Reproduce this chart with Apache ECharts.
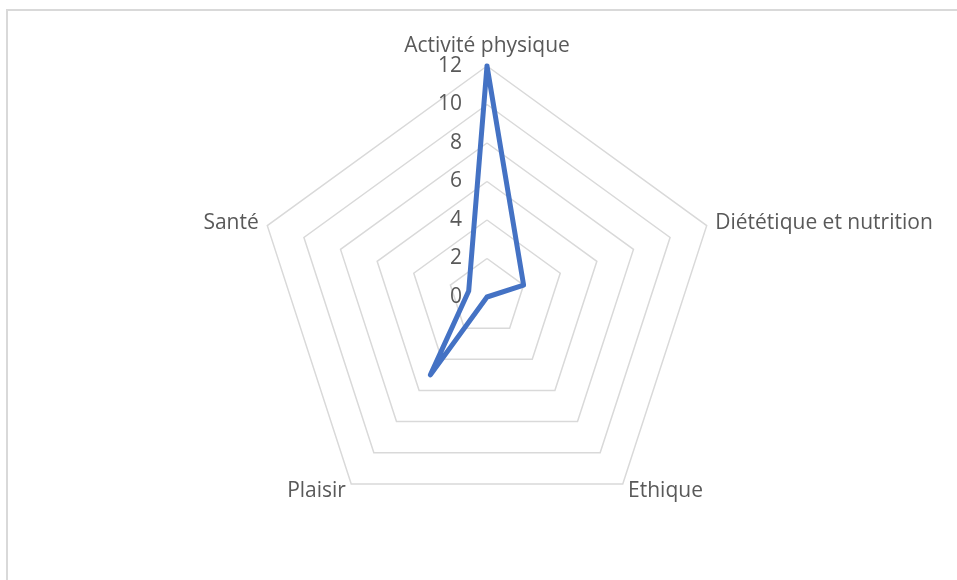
<!DOCTYPE html>
<html>
<head>
<meta charset="utf-8">
<script src="https://cdn.jsdelivr.net/npm/echarts@6/dist/echarts.min.js"></script>
<style>
  html, body { margin: 0; padding: 0; background: #fff; overflow: hidden; }
  #frame {
    position: absolute; left: 6px; top: 9px; width: 1000px; height: 700px;
    border-left: 2px solid #d9d9d9; border-top: 2px solid #d9d9d9;
  }
  #chart { position: absolute; left: 0; top: 0; width: 957px; height: 580px; }
</style>
</head>
<body>
<div id="frame"></div>
<div id="chart"></div>
<script>
  // axes of the radar, clockwise from the top
  const indicators = ['Activité physique', 'Diététique et nutrition', 'Ethique', 'Plaisir', 'Santé'];
  const values = [12, 2, 0, 5, 1];
  const axisMax = 12;
  const axisStep = 2;

  const center = [487, 297];
  const radius = 231;
  const textColor = '#595959';
  const fontFamily = '"Open Sans", sans-serif';
  const fontSize = 21;

  // echarts walks the radar counter-clockwise, so keep the first axis and flip the rest
  const order = [0].concat(indicators.map((_, i) => i).slice(1).reverse());

  const chart = echarts.init(document.getElementById('chart'));
  chart.setOption({
    animation: false,
    textStyle: { fontFamily: fontFamily },
    radar: {
      center: center,
      radius: radius,
      startAngle: 90,
      splitNumber: axisMax / axisStep,
      shape: 'polygon',
      indicator: order.map(i => ({ name: indicators[i], min: 0, max: axisMax })),
      axisName: { color: textColor, fontSize: fontSize, fontFamily: fontFamily },
      nameGap: 9,
      axisLine: { show: false },
      axisTick: { show: false },
      splitArea: { show: false },
      splitLine: { lineStyle: { color: '#d9d9d9', width: 1.5 } }
    },
    // only the top axis carries the value labels, so they come from a hidden polar
    polar: { center: center, radius: radius },
    angleAxis: { show: false, startAngle: 90, min: 0, max: 360 },
    radiusAxis: {
      min: 0,
      max: axisMax,
      interval: axisStep,
      axisLine: { show: false },
      axisTick: { show: false },
      splitLine: { show: false },
      axisLabel: { color: textColor, fontSize: fontSize, margin: 25, fontFamily: fontFamily }
    },
    series: [{
      type: 'radar',
      symbol: 'none',
      lineStyle: { color: '#4472C4', width: 5, join: 'round', cap: 'round' },
      data: [{ value: order.map(i => values[i]) }]
    }]
  });
</script>
</body>
</html>
